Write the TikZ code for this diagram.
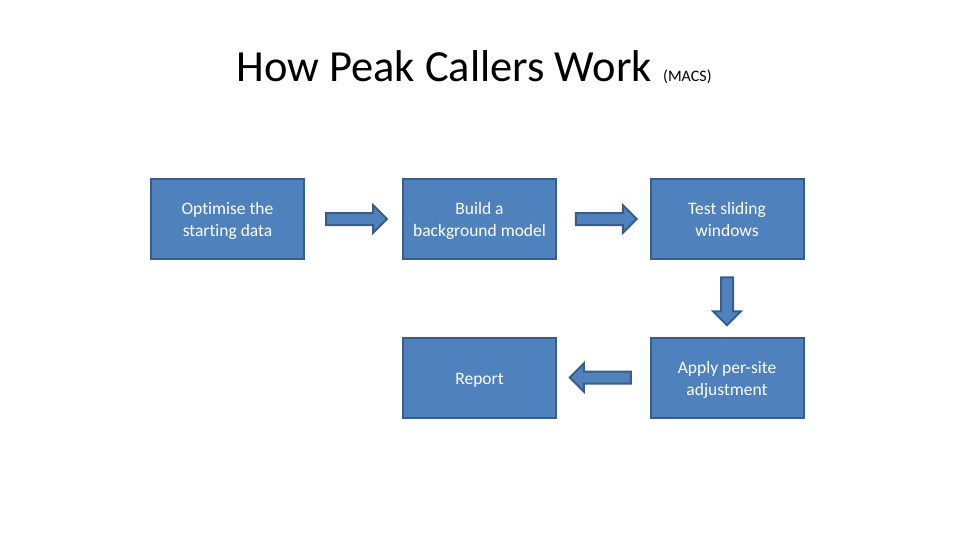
\documentclass[tikz,border=0pt]{standalone}
\usepackage{fontspec}
\setmainfont{Carlito}[Ligatures=NoCommon,RawFeature={-liga;-clig;-calt}]
\usetikzlibrary{calc,shapes.arrows}
\definecolor{StepFill}{rgb}{0.31,0.506,0.741}
\definecolor{StepLine}{rgb}{0.22,0.365,0.541}
\newcommand\topstrut{\rule{0pt}{20.4pt}}

\begin{document}
\begin{tikzpicture}[x=1pt,y=-1pt,
  stepbox/.style={draw=StepLine,fill=StepFill,line width=2pt,
    minimum width=153pt,minimum height=80pt,text=white,align=center,
    font=\fontsize{17.5}{22}\selectfont},
  blockarrow/.style={single arrow,draw=StepLine,fill=StepFill,line width=2pt,
    single arrow head extend=8pt,single arrow tip angle=90,
    inner xsep=0pt,inner ysep=5pt,minimum width=0pt,minimum height=61pt}]
\useasboundingbox (0,0) rectangle (960,540);

\node[font=\fontsize{44.5}{50}\selectfont,anchor=base east,inner sep=0pt] (title) at (652,82) {How Peak Callers Work};
\node[font=\fontsize{16}{18}\selectfont,anchor=base west,inner sep=0pt] (macs) at (663,82) {(MACS)};

\node[stepbox] (opt) at (227.5,219) {\topstrut Optimise the\\\strut starting data};
\node[stepbox] (bg) at (479.5,219) {\topstrut Build a\\\strut background model};
\node[stepbox] (win) at (727,219) {\topstrut Test sliding\\\strut windows};
\node[stepbox] (rep) at (479.5,377.5) {\topstrut Report\strut};
\node[stepbox] (adj) at (727,377.5) {\topstrut Apply per-site\\\strut adjustment};

\node[blockarrow] (a1) at ($(opt.east)!0.5!(bg.west)$) {};
\node[blockarrow] (a2) at ($(bg.east)!0.5!(win.west)$) {};
\node[blockarrow,minimum height=48pt,rotate=270] (a3) at ($(win.south)!0.5!(adj.north)$) {};
\node[blockarrow,rotate=180] (a4) at ($(rep.east)!0.5!(adj.west)$) {};

\end{tikzpicture}
\end{document}
